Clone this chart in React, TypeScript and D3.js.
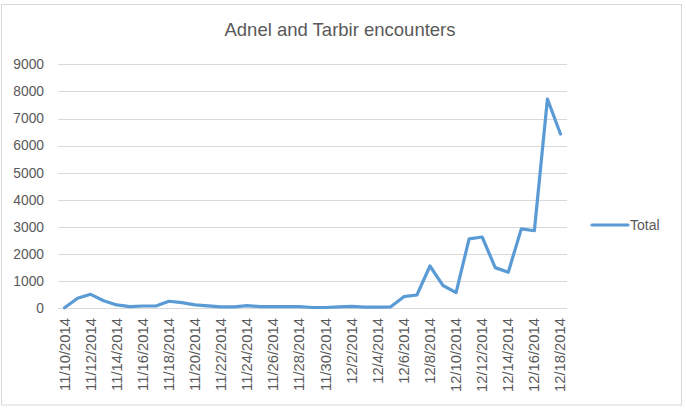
import React from "react";
import * as d3 from "d3";

const dates: string[] = [
  "11/10/2014","11/11/2014","11/12/2014","11/13/2014","11/14/2014","11/15/2014","11/16/2014","11/17/2014",
  "11/18/2014","11/19/2014","11/20/2014","11/21/2014","11/22/2014","11/23/2014","11/24/2014","11/25/2014",
  "11/26/2014","11/27/2014","11/28/2014","11/29/2014","11/30/2014","12/1/2014","12/2/2014","12/3/2014",
  "12/4/2014","12/5/2014","12/6/2014","12/7/2014","12/8/2014","12/9/2014","12/10/2014","12/11/2014",
  "12/12/2014","12/13/2014","12/14/2014","12/15/2014","12/16/2014","12/17/2014","12/18/2014",
];
const totals: number[] = [
  20, 370, 515, 280, 125, 60, 85, 85, 260, 210, 125, 90, 55, 55, 100, 60,
  60, 60, 60, 30, 30, 50, 70, 40, 40, 55, 430, 490, 1560, 840, 580, 2560,
  2630, 1500, 1330, 2930, 2860, 7720, 6430,
];
const yTicks: number[] = [0, 1000, 2000, 3000, 4000, 5000, 6000, 7000, 8000, 9000];
const title = "Adnel and Tarbir encounters";
const seriesName = "Total";

const W = 686, H = 410;
const plot = { left: 58, right: 567, top: 64.3, bottom: 308.3 };
const textColor = "#595959";
const font = "'Liberation Sans', Arial, sans-serif";

export default function App() {
  const x = d3.scaleBand<string>().domain(dates).range([plot.left, plot.right]);
  const y = d3.scaleLinear().domain([0, 9000]).range([plot.bottom, plot.top]);
  const cx = (d: string) => (x(d) ?? 0) + x.bandwidth() / 2;
  const line = d3.line<number>().x((_, i) => cx(dates[i])).y((v) => y(v));

  return (
    <svg width={W} height={H} style={{ position: "absolute", left: 0, top: 0, fontFamily: font }}>
      <rect x={0} y={0} width={W} height={H} fill="#fff" />
      <rect x={1.5} y={4.5} width={680} height={400.5} fill="none" stroke="#D9D9D9" strokeWidth={1} />
      <text x={340} y={35.5} textAnchor="middle" fontSize={18.5} fill={textColor}>{title}</text>
      {yTicks.map((t) => (
        <g key={t}>
          <line x1={plot.left} x2={plot.right} y1={Math.round(y(t)) + 0.5} y2={Math.round(y(t)) + 0.5} stroke="#D9D9D9" strokeWidth={1} />
          <text x={44} y={y(t) + 4.8} textAnchor="end" fontSize={13.8} fill={textColor}>{t}</text>
        </g>
      ))}
      {dates.map((d, i) =>
        i % 2 === 0 ? (
          <text key={d} transform={`translate(${cx(d) + 5},318) rotate(-90)`} textAnchor="end" fontSize={14.8} fill={textColor}>{d}</text>
        ) : null
      )}
      <path d={line(totals) ?? ""} fill="none" stroke="#5B9BD5" strokeWidth={3.2} strokeLinejoin="round" strokeLinecap="round" />
      <line x1={592} x2={628} y1={225} y2={225} stroke="#5B9BD5" strokeWidth={3.2} strokeLinecap="round" />
      <text x={630} y={230} fontSize={14} fill={textColor}>{seriesName}</text>
    </svg>
  );
}
